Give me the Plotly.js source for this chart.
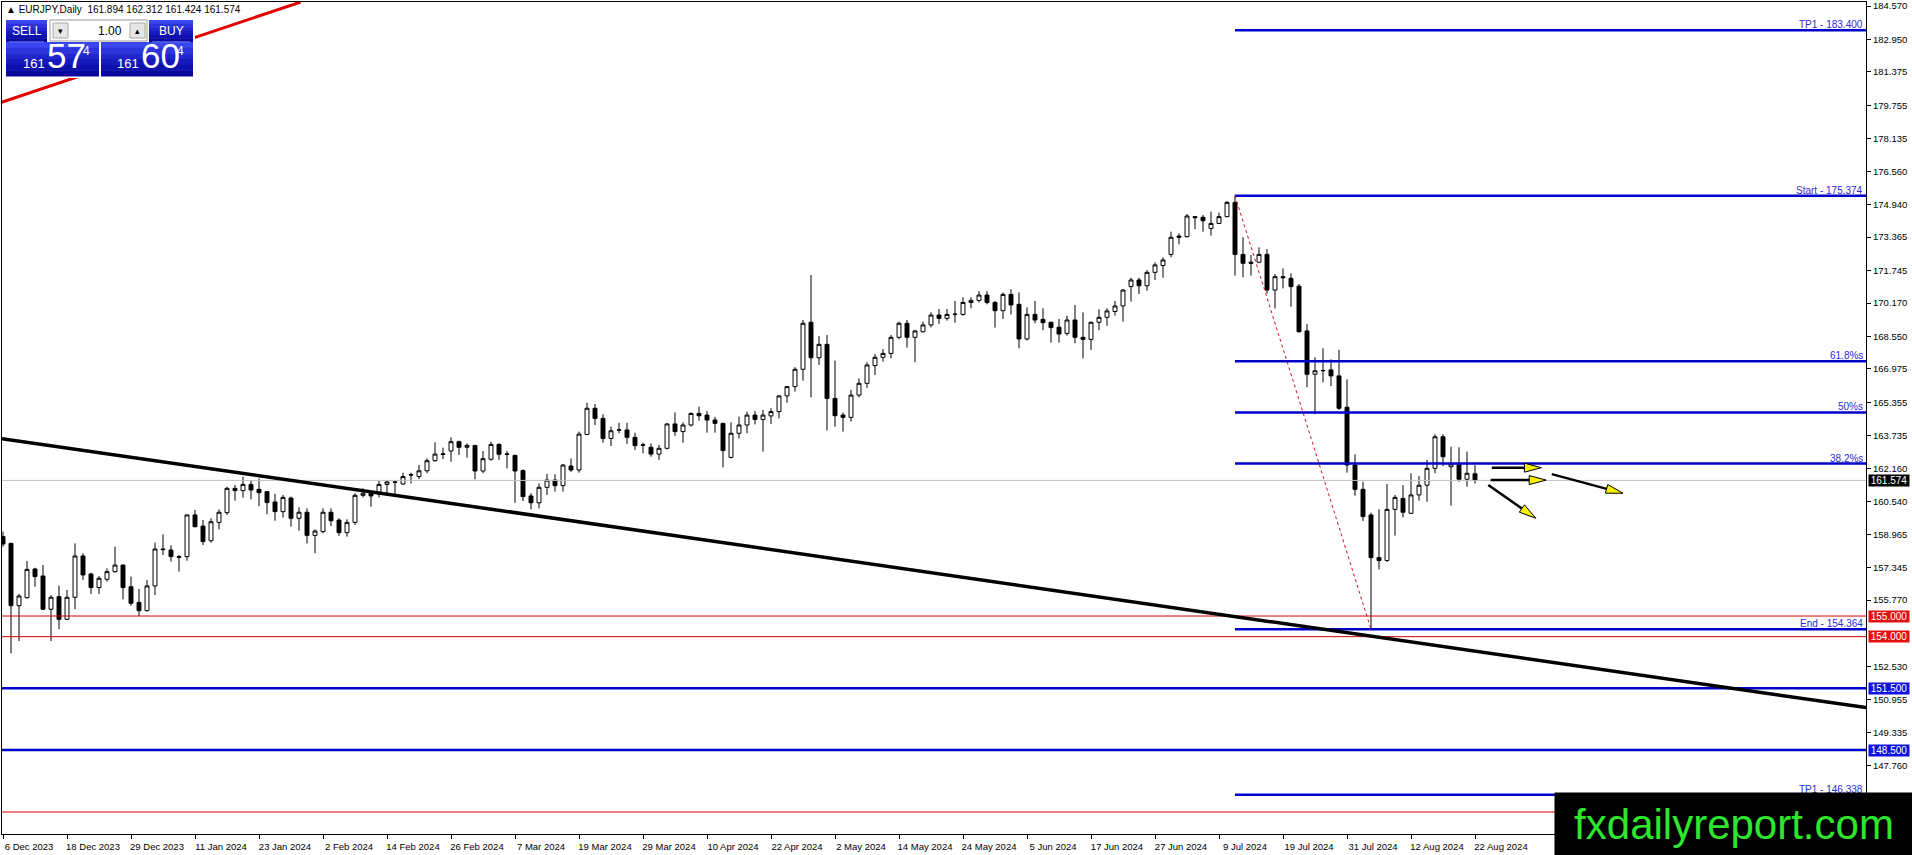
<!DOCTYPE html>
<html>
<head>
<meta charset="utf-8">
<script src="https://cdn.plot.ly/plotly-3.0.1.min.js"></script>
<style>
html, body { margin: 0; padding: 0; background: #fff; overflow: hidden; }
#graphe { width: 1912px; height: 855px; }
</style>
</head>
<body>
<div id="graphe"></div>
<script>
// Cours journaliers EURJPY (une valeur par barre)
var ouverture = [158.85,158.52,155.50,155.89,157.28,156.94,155.33,155.94,154.84,155.91,
157.91,157.04,156.38,156.78,157.15,157.47,156.42,155.66,155.26,156.46,
158.25,158.20,157.88,157.88,159.90,159.36,158.65,159.54,160.01,161.19,
161.08,161.38,161.14,161.03,160.53,160.06,160.72,159.74,160.03,158.91,
159.09,160.03,159.65,159.04,159.54,160.85,160.95,160.91,161.38,161.50,
161.40,161.83,161.76,162.04,162.53,162.83,163.00,163.45,163.18,163.27,
162.03,162.60,163.32,162.86,162.79,162.05,160.82,160.49,161.24,161.59,
161.32,162.27,162.08,163.80,165.07,164.58,163.61,164.01,164.02,163.66,
163.30,163.18,162.85,163.13,164.31,163.94,164.26,164.82,164.74,164.50,
164.34,162.69,163.86,164.26,164.74,164.53,164.70,164.91,165.67,166.12,
166.96,169.24,167.52,168.17,165.55,164.74,164.63,165.71,166.28,167.14,
167.54,167.73,168.51,169.19,168.51,168.78,169.11,169.59,169.43,169.62,
169.62,170.20,170.30,170.56,170.20,169.80,170.59,170.11,168.43,169.62,
169.38,169.24,169.00,168.70,169.35,168.51,168.41,169.24,169.48,169.76,
170.03,170.97,171.29,171.01,171.66,171.99,172.53,173.42,173.39,174.36,
174.33,173.79,174.03,174.36,175.05,172.53,172.15,172.15,172.53,170.80,
171.45,171.37,170.99,168.82,166.72,166.89,166.93,166.64,165.12,162.32,
161.14,159.90,157.83,157.69,160.17,160.70,159.98,160.87,161.34,162.16,
163.69,162.24,162.37,161.63,161.894];

var haut = [159.09,158.56,156.07,157.67,157.34,157.47,156.02,156.47,156.26,158.52,
158.04,157.10,156.94,157.31,158.36,157.50,156.91,156.31,156.75,158.56,
158.96,158.43,157.96,159.92,160.14,159.66,159.74,160.17,161.27,161.35,
161.75,161.59,161.67,161.05,160.92,160.87,160.79,160.27,160.22,159.20,
160.22,160.22,159.74,159.69,160.95,161.19,160.98,161.56,161.56,161.56,
161.95,161.95,162.32,162.64,163.42,163.16,163.66,163.50,163.37,163.27,
163.00,163.45,163.37,163.00,162.81,162.11,160.95,161.43,161.89,161.87,
162.37,162.64,163.94,165.34,165.28,164.78,164.18,164.37,164.37,163.89,
163.40,163.37,163.29,164.34,164.87,164.39,164.87,165.15,164.94,164.66,
164.36,164.39,164.66,164.91,164.94,164.99,165.07,165.71,166.15,167.06,
169.35,171.53,168.57,168.62,167.38,164.87,165.96,166.52,167.30,167.70,
167.94,168.62,169.27,169.35,168.87,169.27,169.72,169.88,169.88,170.27,
170.45,170.45,170.75,170.75,170.27,170.69,170.84,170.69,169.96,170.27,
169.92,169.26,169.40,169.56,170.08,169.72,169.27,169.87,169.92,170.27,
170.85,171.40,171.40,171.77,172.14,172.39,173.63,173.55,174.49,174.39,
174.44,174.60,174.55,175.12,175.374,173.36,172.50,172.87,172.78,171.58,
171.85,171.61,171.09,169.16,167.54,167.98,167.44,167.90,166.47,162.84,
161.51,160.01,160.17,161.40,160.87,161.34,161.92,161.79,162.57,163.81,
163.81,163.21,163.18,162.97,162.312];

var bas = [158.36,153.19,153.79,155.84,156.42,155.30,153.79,154.36,154.81,155.33,
156.75,156.07,156.07,156.67,157.10,155.81,155.50,155.00,155.22,156.02,
157.96,157.64,157.15,157.68,159.30,158.44,158.56,159.20,159.90,160.59,
160.74,160.66,160.33,159.93,159.62,159.77,159.33,159.14,158.52,158.04,
159.01,159.36,158.89,158.85,159.41,160.75,160.30,160.75,160.87,160.82,
161.35,161.43,161.64,161.92,162.48,162.61,162.48,162.81,162.68,161.63,
161.92,162.53,162.56,162.16,160.49,160.57,160.17,160.22,160.87,161.03,
161.03,161.99,161.95,163.77,164.26,163.40,163.24,163.86,163.34,163.05,
162.89,162.72,162.56,163.08,163.73,163.40,164.18,164.47,163.89,163.89,
162.21,162.64,163.61,163.86,164.29,162.97,164.31,164.58,165.34,165.88,
166.41,165.60,167.17,163.99,164.18,163.94,164.42,165.60,166.05,166.68,
167.33,167.49,168.41,168.01,167.30,168.75,168.99,169.16,169.32,169.22,
169.56,169.92,170.20,170.11,168.98,169.40,169.62,167.98,168.35,169.19,
168.86,168.25,168.25,168.59,168.22,167.49,167.90,168.86,169.07,169.56,
169.27,170.24,170.61,170.77,171.29,171.40,172.39,173.02,173.34,173.75,
173.63,173.44,174.00,174.33,171.50,171.42,171.50,172.10,170.64,169.91,
170.88,169.99,168.74,166.09,164.78,166.33,166.15,164.99,161.95,160.83,
159.61,154.364,157.26,157.62,158.90,159.78,159.95,160.59,160.54,161.92,
162.27,160.35,161.51,161.27,161.424];

var cloture = [158.49,155.50,155.97,157.26,156.91,155.33,155.91,154.84,155.91,157.91,
156.99,156.38,156.83,157.15,157.47,156.38,155.62,155.26,156.46,158.25,
158.22,157.88,157.85,159.90,159.33,158.61,159.57,160.03,161.19,161.08,
161.38,161.11,160.98,160.50,160.06,160.75,159.74,160.03,158.91,159.12,
160.03,159.62,159.04,159.54,160.85,160.95,160.82,161.38,161.50,161.48,
161.76,161.85,162.04,162.53,162.85,162.86,163.45,163.18,163.27,162.03,
162.63,163.32,162.84,162.84,162.03,160.79,160.49,161.24,161.59,161.32,
162.32,162.08,163.82,165.07,164.58,163.61,163.98,164.02,163.66,163.26,
163.28,162.85,163.13,164.31,163.94,164.26,164.82,164.71,164.50,164.34,
163.02,163.86,164.26,164.74,164.53,164.74,164.91,165.67,166.12,166.96,
169.19,167.52,168.17,165.55,164.71,164.63,165.71,166.28,167.17,167.54,
167.73,168.51,169.19,168.51,168.82,169.11,169.59,169.43,169.62,169.63,
170.20,170.30,170.56,170.20,169.80,170.59,170.08,168.43,169.62,169.35,
169.22,168.98,168.67,169.35,168.51,168.41,169.24,169.48,169.79,170.03,
170.80,171.29,171.01,171.66,172.02,172.26,173.36,173.36,174.39,174.31,
174.16,174.03,174.36,175.05,172.53,172.10,172.10,172.53,170.80,171.45,
171.40,170.97,168.78,166.72,166.89,166.90,166.64,165.07,162.32,161.14,
159.82,157.83,157.69,160.17,160.75,160.03,160.87,161.34,162.16,163.69,
162.72,162.37,161.63,161.92,161.574];

// Etiquettes de l'axe des dates (une toutes les 8 barres)
var etiquettesDates = ['6 Dec 2023','18 Dec 2023','29 Dec 2023','11 Jan 2024','23 Jan 2024',
'2 Feb 2024','14 Feb 2024','26 Feb 2024','7 Mar 2024','19 Mar 2024','29 Mar 2024',
'10 Apr 2024','22 Apr 2024','2 May 2024','14 May 2024','24 May 2024','5 Jun 2024',
'17 Jun 2024','27 Jun 2024','9 Jul 2024','19 Jul 2024','31 Jul 2024','12 Aug 2024','22 Aug 2024'];
var pasDates = 8;

// Graduations visibles de l'axe des prix
var graduationsPrix = [184.570,182.950,181.375,179.755,178.135,176.560,174.940,173.365,
171.745,170.170,168.550,166.975,165.355,163.735,162.160,160.540,158.965,157.345,
155.770,152.530,150.955,149.335,147.760];

// Retracement de Fibonacci (depart barre 154) et objectifs
var fiboNiveaux = [183.400,175.374,167.348,164.869,162.390,154.364,146.338];
var fiboTextes = ['TP1 - 183.400','Start - 175.374','61.8%s','50%s','38.2%s','End - 154.364','TP1 - 146.338'];
var fiboDebut = 154;
var fiboFin = 171;

// Lignes horizontales sur toute la largeur
var niveauxRouges = [155.000,154.000,145.500];
var niveauxBleus = [151.500,148.500];
var prixVente = 161.574;
var prixAchat = 161.604;

// Lignes de tendance (barre, prix)
var tendanceNoireX = [-0.125, 232.875];
var tendanceNoireY = [163.60, 150.56];
var tendanceRougeX = [-0.375, 37.2];
var tendanceRougeY = [179.88, 184.76];

// Fleches jaunes (debut -> pointe)
var flechesX0 = [186.1, 185.96, 193.6, 185.66];
var flechesY0 = [162.19, 161.59, 161.88, 161.35];
var flechesX1 = [192.3, 192.9, 202.5, 191.6];
var flechesY1 = [162.19, 161.59, 160.95, 159.74];

// ---- mise en page ----
var M = {l: 2, r: 46, t: 2, b: 21};
var W = 1912 - M.l - M.r;
var H = 855 - M.t - M.b;
var kx = 8;                // pixels par barre
var xMin = -0.125;
var xMax = xMin + W / kx;
var yMin = 144.434;
var yMax = 184.764;
var ky = H / (yMax - yMin);
var police = 'Liberation Sans, Arial, sans-serif';

function pX(px) { return (px - M.l) / W; }
function pY(py) { return 1 - (py - M.t) / H; }

var n = cloture.length;
var barres = [];
for (var i = 0; i < n; i++) barres.push(i);

var valsDates = [];
for (var i = 0; i < etiquettesDates.length; i++) valsDates.push(i * pasDates);

var bougies = {
	type: 'candlestick',
	x: barres, open: ouverture, high: haut, low: bas, close: cloture,
	increasing: {line: {color: '#000', width: 1}, fillcolor: '#fff'},
	decreasing: {line: {color: '#000', width: 1}, fillcolor: '#000'},
	whiskerwidth: 0,
	hoverinfo: 'skip',
	showlegend: false
};

var formes = [];
var notes = [];

function ligneH(y, x0, couleur, epaisseur) {
	formes.push({type: 'line', xref: 'x', yref: 'y', x0: x0, x1: xMax, y0: y, y1: y,
		line: {color: couleur, width: epaisseur}, layer: 'above'});
}

// prix courant
ligneH(prixVente, xMin, '#c0c0c0', 1);
for (var i = 0; i < niveauxRouges.length; i++) ligneH(niveauxRouges[i], xMin, '#d40000', 1);
for (var i = 0; i < niveauxBleus.length; i++) ligneH(niveauxBleus[i], xMin, '#0000c8', 2.5);
for (var i = 0; i < fiboNiveaux.length; i++) {
	ligneH(fiboNiveaux[i], fiboDebut, '#0000c8', 2.5);
	notes.push({xref: 'paper', yref: 'y', x: pX(1865), y: fiboNiveaux[i], xanchor: 'right', yanchor: 'bottom',
		yshift: -2, text: fiboTextes[i], showarrow: false, font: {family: police, size: 10, color: '#2b2bd8'}});
}

// ligne pointillee du Fibonacci
formes.push({type: 'line', xref: 'x', yref: 'y', x0: fiboDebut, y0: haut[fiboDebut], x1: fiboFin, y1: bas[fiboFin],
	line: {color: '#cc1020', width: 1, dash: 'dot'}, layer: 'above'});

// tendances
formes.push({type: 'line', xref: 'x', yref: 'y', x0: tendanceNoireX[0], y0: tendanceNoireY[0],
	x1: tendanceNoireX[1], y1: tendanceNoireY[1], line: {color: '#000', width: 3.5}, layer: 'above'});
formes.push({type: 'line', xref: 'x', yref: 'y', x0: tendanceRougeX[0], y0: tendanceRougeY[0],
	x1: tendanceRougeX[1], y1: tendanceRougeY[1], line: {color: '#e00000', width: 3}, layer: 'above'});

// fleches : calcul de la pointe en pixels puis retour en unites
function fleche(x0, y0, x1, y1) {
	var X0 = (x0 - xMin) * kx, Y0 = (yMax - y0) * ky;
	var X1 = (x1 - xMin) * kx, Y1 = (yMax - y1) * ky;
	var dx = X1 - X0, dy = Y1 - Y0;
	var d = Math.sqrt(dx * dx + dy * dy);
	var ux = dx / d, uy = dy / d;
	var lg = 17, demi = 4.5;
	var bx = X1 - ux * lg, by = Y1 - uy * lg;
	function ux_(X) { return xMin + X / kx; }
	function uy_(Y) { return yMax - Y / ky; }
	formes.push({type: 'line', xref: 'x', yref: 'y', x0: x0, y0: y0, x1: ux_(bx + ux * 4), y1: uy_(by + uy * 4),
		line: {color: '#000', width: 2.5}, layer: 'above'});
	var chemin = 'M' + x1 + ',' + y1 +
		' L' + ux_(bx - uy * demi) + ',' + uy_(by + ux * demi) +
		' L' + ux_(bx + uy * demi) + ',' + uy_(by - ux * demi) + ' Z';
	formes.push({type: 'path', xref: 'x', yref: 'y', path: chemin, fillcolor: '#f6f000',
		line: {color: '#000', width: 1}, layer: 'above'});
}
for (var i = 0; i < flechesX0.length; i++) fleche(flechesX0[i], flechesY0[i], flechesX1[i], flechesY1[i]);

// etiquettes sur l'axe des prix
function etiquetteAxe(prix, fond) {
	notes.push({xref: 'paper', yref: 'y', x: pX(1868), y: prix, xanchor: 'left', yanchor: 'middle',
		text: prix.toFixed(3), showarrow: false, bgcolor: fond, borderpad: 1, width: 38, height: 9,
		font: {family: police, size: 10, color: '#fff'}});
}
etiquetteAxe(prixVente, '#000');
for (var i = 0; i < niveauxRouges.length; i++) etiquetteAxe(niveauxRouges[i], '#e41010');
for (var i = 0; i < niveauxBleus.length; i++) etiquetteAxe(niveauxBleus[i], '#1010e0');

// panneau de trading en haut a gauche
function rect(x0, y0, x1, y1, fond, bord) {
	formes.push({type: 'rect', xref: 'paper', yref: 'paper', x0: pX(x0), x1: pX(x1), y0: pY(y0), y1: pY(y1),
		fillcolor: fond, line: {color: bord || fond, width: bord ? 1 : 0}, layer: 'above'});
}
function texte(px, py, t, taille, couleur, ancre) {
	notes.push({xref: 'paper', yref: 'paper', x: pX(px), y: pY(py), xanchor: ancre || 'left', yanchor: 'middle',
		text: t, showarrow: false, font: {family: police, size: taille, color: couleur}});
}
function boiteBleue(x0, y0, x1, y1) {
	// degrade simple en bandes
	var bandes = 6;
	var couleurs = ['#3a46ee', '#2c34de', '#2026cc', '#161abc', '#0e10ac', '#08089e'];
	for (var b = 0; b < bandes; b++) {
		rect(x0, y0 + (y1 - y0) * b / bandes, x1, y0 + (y1 - y0) * (b + 1) / bandes + 0.5, couleurs[b]);
	}
}
rect(4, 18, 195, 78, '#fff');
boiteBleue(6, 20, 47, 42);
boiteBleue(149, 20, 193, 42);
boiteBleue(6, 42, 99, 76);
boiteBleue(101, 42, 193, 76);
rect(9, 41.5, 44, 42.3, '#8c96ff');
rect(152, 41.5, 190, 42.3, '#8c96ff');
rect(50, 20, 147, 41, '#fff', '#9a9a9a');
rect(53, 23, 68, 38, '#e6e6e6', '#a8a8a8');
rect(130, 23, 145, 38, '#e6e6e6', '#a8a8a8');
texte(26.5, 31, 'SELL', 12, '#fff', 'center');
texte(171, 31, 'BUY', 12, '#fff', 'center');
texte(124, 31, (1).toFixed(2), 12, '#000', 'right');
texte(60.5, 31, '▾', 9, '#000', 'center');
texte(137.5, 31, '▴', 9, '#000', 'center');

function prixGros(x, p) {
	var s = p.toFixed(3).split('.');
	texte(x, 63.5, s[0], 13, '#fff');
	texte(x + 24, 56, s[1].substr(0, 2), 35, '#fff');
	texte(x + 60, 51.5, s[1].substr(2, 1), 12, '#fff');
}
prixGros(21, prixVente);
prixGros(115, prixAchat);

// en-tete du symbole
var dernier = n - 1;
texte(4, 9, '▲ EURJPY,Daily\u00a0\u00a0' + ouverture[dernier].toFixed(3) + ' ' + haut[dernier].toFixed(3) + ' ' +
	bas[dernier].toFixed(3) + ' ' + cloture[dernier].toFixed(3), 10, '#000');

// filigrane en bas a droite (dessine en dernier)
notes.push({xref: 'paper', yref: 'paper', x: pX(1554), y: pY(792), xanchor: 'left', yanchor: 'top',
	width: 358, height: 63, borderpad: 0, bgcolor: '#000', align: 'center', valign: 'middle',
	text: 'fxdailyreport.com', showarrow: false,
	font: {family: police, size: 42, color: '#2ee62e'}});

var mise = {
	width: 1912, height: 855, autosize: false,
	margin: {l: M.l, r: M.r, t: M.t, b: M.b, pad: 0},
	paper_bgcolor: '#fff', plot_bgcolor: '#fff',
	showlegend: false,
	font: {family: police, size: 10, color: '#000'},
	xaxis: {
		range: [xMin, xMax], rangeslider: {visible: false},
		tickvals: valsDates, ticktext: etiquettesDates, ticklabelshift: 26,
		ticks: 'outside', ticklen: 4, tickcolor: '#000', tickfont: {family: police, size: 9.5, color: '#000'},
		showgrid: false, zeroline: false, showline: true, linecolor: '#000', linewidth: 1, mirror: true
	},
	yaxis: {
		range: [yMin, yMax], side: 'right',
		tickvals: graduationsPrix, tickformat: '.3f',
		ticks: 'outside', ticklen: 4, tickcolor: '#000', tickfont: {family: police, size: 9.5, color: '#000'},
		showgrid: false, zeroline: false, showline: true, linecolor: '#000', linewidth: 1, mirror: true
	},
	shapes: formes,
	annotations: notes
};

Plotly.newPlot('graphe', [bougies], mise, {displayModeBar: false, staticPlot: true});
</script>
</body>
</html>
